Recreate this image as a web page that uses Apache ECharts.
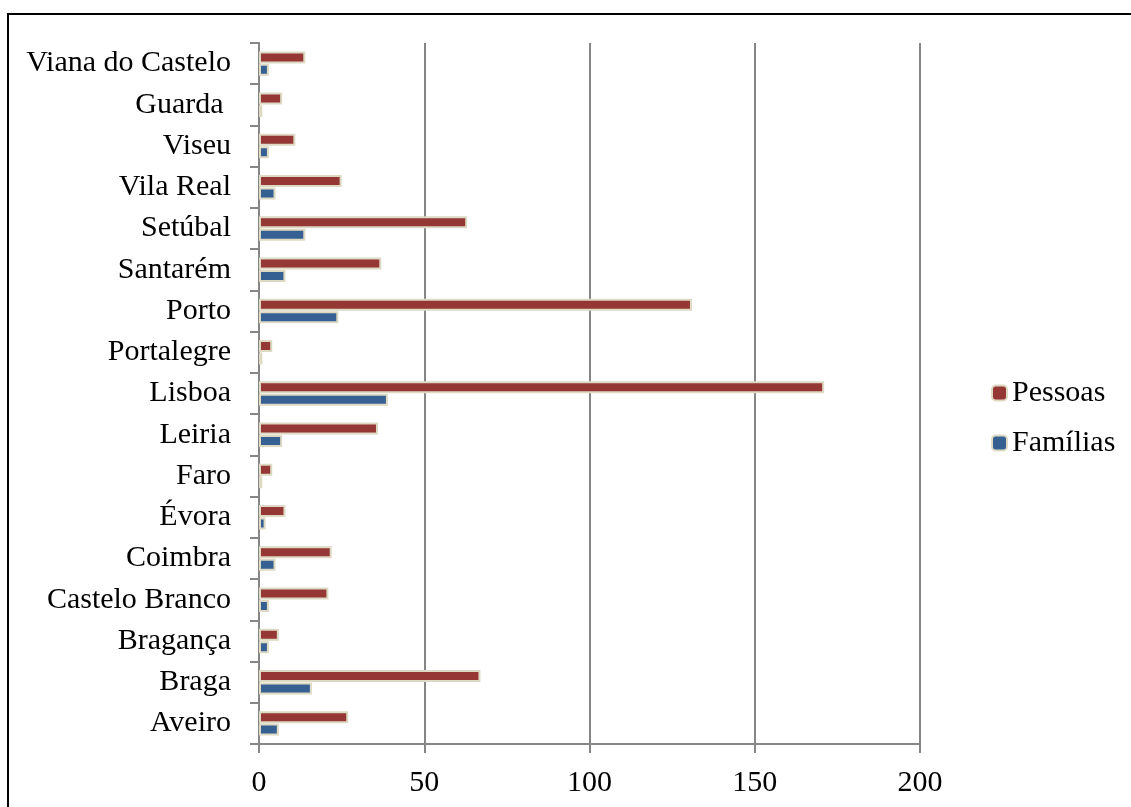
<!DOCTYPE html>
<html><head><meta charset="utf-8">
<script src="https://cdn.jsdelivr.net/npm/echarts@6/dist/echarts.min.js"></script>
<style>html,body{margin:0;padding:0;background:#fff}#c{width:1131px;height:807px}</style>
</head><body><div id="c"></div>
<script>
const categories = ['Aveiro','Braga','Bragança','Castelo Branco','Coimbra','Évora','Faro','Leiria','Lisboa','Portalegre','Porto','Santarém','Setúbal','Vila Real','Viseu','Guarda ','Viana do Castelo'];
const pessoas = [27,67,6,21,22,8,4,36,171,4,131,37,63,25,11,7,14];
const familias = [6,16,3,3,5,2,1,7,39,1,24,8,14,5,3,1,3];
const xTicks = [0,50,100,150,200];

const FONT = 'Liberation Serif';
const chart = echarts.init(document.getElementById('c'), null, {renderer:'canvas'});
chart.setOption({
  animation:false,
  backgroundColor:'#fff',
  graphic:[{type:'rect',shape:{x:8,y:14,width:1300,height:1000},style:{fill:'none',stroke:'#000',lineWidth:2},silent:true}],
  grid:{left:259,right:211,top:43,bottom:63,containLabel:false},
  legend:{
    orient:'vertical',left:986,top:373,itemWidth:15,itemHeight:15,itemGap:20,
    data:['Pessoas','Famílias'],
    textStyle:{fontFamily:FONT,fontSize:30,color:'#000'}
  },
  xAxis:{
    type:'value',min:0,max:200,interval:50,
    axisLine:{show:true,lineStyle:{color:'#868686',width:2}},
    axisTick:{show:true,length:9,lineStyle:{color:'#868686',width:2}},
    splitLine:{show:true,lineStyle:{color:'#868686',width:2}},
    axisLabel:{margin:24,fontFamily:FONT,fontSize:30,color:'#000',formatter:v=>xTicks.includes(v)?String(v):''}
  },
  yAxis:{
    type:'category',data:categories,
    axisLine:{show:true,lineStyle:{color:'#868686',width:2}},
    axisTick:{show:true,length:9,lineStyle:{color:'#868686',width:2}},
    axisLabel:{margin:28,fontFamily:FONT,fontSize:30,color:'#000'}
  },
  series:[
    {name:'Pessoas',type:'bar',data:pessoas,barWidth:12,barGap:'4%',
     itemStyle:{color:'#953735',borderColor:'#ddd9c3',borderWidth:2}},
    {name:'Famílias',type:'bar',data:familias,barWidth:12,barGap:'4%',
     itemStyle:{color:'#376092',borderColor:'#ddd9c3',borderWidth:2}}
  ]
});
</script></body></html>
